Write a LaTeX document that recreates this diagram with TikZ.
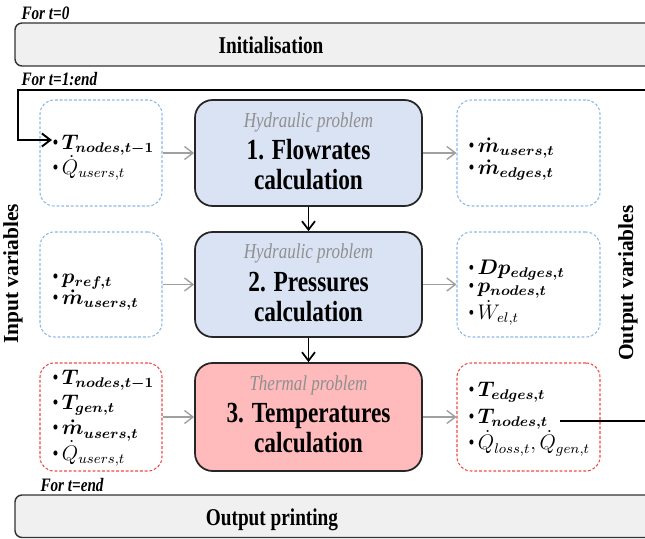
\documentclass[tikz,border=0pt]{standalone}
\usepackage{amsmath}
\usepackage{fontspec}
\setmainfont{Liberation Serif}[FakeStretch=0.8]
\newfontfamily\sideserif{Liberation Serif}
\usetikzlibrary{arrows.meta}

\definecolor{stepblue}{HTML}{DAE3F3}
\definecolor{steppink}{HTML}{FFBBBB}
\definecolor{dashblue}{HTML}{8DB8E6}
\definecolor{dashred}{HTML}{F04848}
\definecolor{bargray}{HTML}{F0F0F0}
\definecolor{subgray}{HTML}{8F8F8F}
\definecolor{arrgray}{HTML}{A0A0A0}

\begin{document}
\begin{tikzpicture}[x=0.02cm, y=0.02cm, >={Straight Barb[length=1.7mm,width=2.6mm]}, line width=0.6pt,
  bar/.style={draw=black!80, fill=bargray, rounded corners=4pt, line width=0.8pt},
  bartext/.style={font=\fontsize{13.7}{16}\selectfont\bfseries},
  note/.style={font=\fontsize{10.8}{12}\selectfont\bfseries\itshape, anchor=base west, inner sep=0pt},
  inbox/.style={draw=dashblue, dash pattern=on 1.6pt off 1.1pt, rounded corners=8pt},
  redbox/.style={inbox, draw=dashred},
  stepbox/.style={draw=black!85, line width=1pt, rounded corners=10pt},
  subtitle/.style={font=\fontsize{12.1}{14}\selectfont\itshape, text=subgray, inner sep=0pt},
  title/.style={font=\fontsize{16.6}{17}\selectfont\bfseries, align=center, inner sep=0pt},
  varlist/.style={font=\fontsize{12}{14.4}\selectfont, align=left, anchor=west, inner sep=0pt},
  sidelabel/.style={font=\sideserif\fontsize{12.2}{14}\selectfont\bfseries, rotate=90, inner sep=0pt},
  feed/.style={->, draw=arrgray, line width=0.8pt},
  next/.style={->, line width=1pt},
  loopline/.style={->, line width=1.1pt}]
  \useasboundingbox (0,0) rectangle (645,538);
  % initialisation
  \node[note] (t0) at (21,518) {For t=0};
  \draw[bar] (15,472) rectangle (680,515);
  \node[bartext] (init) at (271,493) {Initialisation};
  \node[note] (t1) at (21,452) {For t=1:end};
  % step 1
  \node[inbox, minimum width=2.44cm, minimum height=2.12cm] (in1) at (101,385) {};
  \node[stepbox, fill=stepblue, minimum width=4.54cm, minimum height=2.12cm] (s1) at (308.5,385) {};
  \node[inbox, minimum width=2.86cm, minimum height=2.12cm] (out1) at (528.5,385) {};
  \node[subtitle] (h1) at (308.5,416) {Hydraulic problem};
  \node[title] (c1) at (308.5,373.5) {1. Flowrates\\calculation};
  \node[varlist] (vi1) at (52,380.5) {\textbullet\,$\boldsymbol{T_{nodes,t-1}}$\\ \textbullet\,$\dot{Q}_{users,t}$};
  \node[varlist, font=\fontsize{12}{12.8}\selectfont] (vo1) at (468,379) {\textbullet\,$\boldsymbol{\dot{m}_{users,t}}$\\ \textbullet\,$\boldsymbol{\dot{m}_{edges,t}}$};
  % step 2
  \node[inbox, minimum width=2.44cm, minimum height=2.1cm] (in2) at (101,253.5) {};
  \node[stepbox, fill=stepblue, minimum width=4.54cm, minimum height=2.1cm] (s2) at (308.5,253.5) {};
  \node[inbox, minimum width=2.86cm, minimum height=2.1cm] (out2) at (528.5,253.5) {};
  \node[subtitle] (h2) at (308.5,285) {Hydraulic problem};
  \node[title] (c2) at (308.5,241) {2. Pressures\\calculation};
  \node[varlist, font=\fontsize{12}{11.8}\selectfont] (vi2) at (52,246) {\textbullet\,$\boldsymbol{p_{ref,t}}$\\ \textbullet\,$\boldsymbol{\dot{m}_{users,t}}$};
  \node[varlist, font=\fontsize{11.5}{10.4}\selectfont] (vo2) at (468,245.5) {\textbullet\,$\boldsymbol{Dp_{edges,t}}$\\ \textbullet\,$\boldsymbol{p_{nodes,t}}$\\ \textbullet\,$\dot{W}_{el,t}$};
  % step 3
  \node[redbox, minimum width=2.44cm, minimum height=2.16cm] (in3) at (101,121) {};
  \node[stepbox, fill=steppink, minimum width=4.54cm, minimum height=2.16cm] (s3) at (308.5,121) {};
  \node[redbox, minimum width=2.86cm, minimum height=2.16cm] (out3) at (528.5,121) {};
  \node[subtitle] (h3) at (308.5,153) {Thermal problem};
  \node[title] (c3) at (308.5,110) {3. Temperatures\\calculation};
  \node[varlist] (vi3) at (52,120) {\textbullet\,$\boldsymbol{T_{nodes,t-1}}$\\ \textbullet\,$\boldsymbol{T_{gen,t}}$\\ \textbullet\,$\boldsymbol{\dot{m}_{users,t}}$\\ \textbullet\,$\dot{Q}_{users,t}$};
  \node[varlist, font=\fontsize{12}{15.2}\selectfont] (vo3) at (468,119) {\textbullet\,$\boldsymbol{T_{edges,t}}$\\ \textbullet\,$\boldsymbol{T_{nodes,t}}$\\ \textbullet\,$\dot{Q}_{loss,t}, \dot{Q}_{gen,t}$};
  % side labels
  \node[sidelabel] (inlab) at (13,264) {Input variables};
  \node[sidelabel] (outlab) at (628,255) {Output variables};
  % arrows
  \draw[feed] (in1) -- (s1);
  \draw[feed] (s1) -- (out1);
  \draw[feed] (in2) -- (s2);
  \draw[feed] (s2) -- (out2);
  \draw[feed] (in3) -- (s3);
  \draw[feed] (s3) -- (out3);
  \draw[next] (s1) -- (s2);
  \draw[next] (s2) -- (s3);
  % time loop
  \coordinate (tnodes) at (560,117);
  \coordinate (tprev) at (52,398);
  \draw[loopline] (tnodes) -- (665,117) |- (18,448) |- (tprev);
  % final output
  \node[note] (tend) at (40,47) {For t=end};
  \draw[bar] (15,0.5) rectangle (680,43);
  \node[bartext] (outp) at (272,18) {Output printing};
\end{tikzpicture}
\end{document}
